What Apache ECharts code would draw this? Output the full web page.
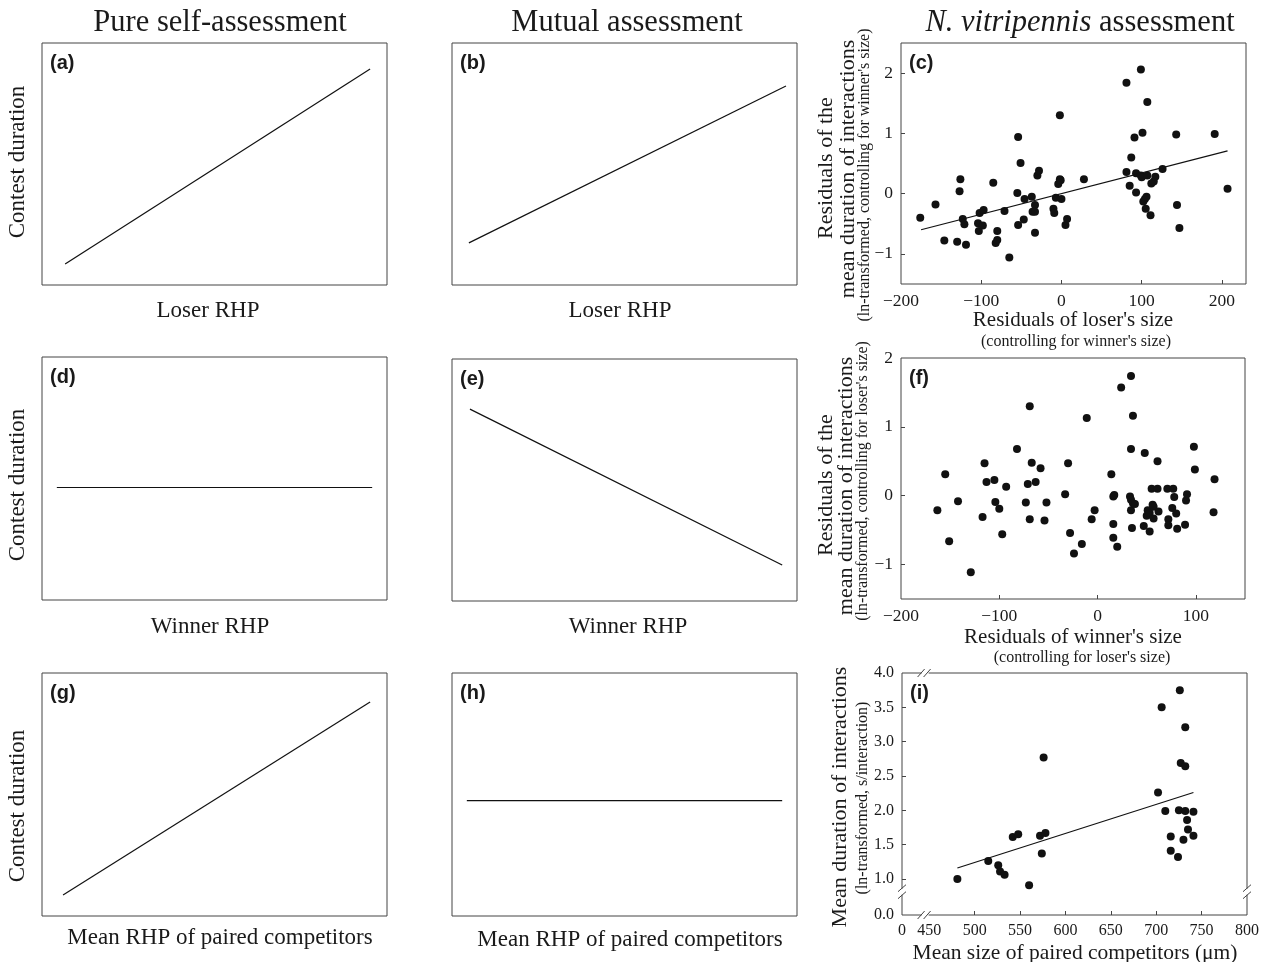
<!DOCTYPE html>
<html>
<head>
<meta charset="utf-8">
<script src="https://cdn.jsdelivr.net/npm/echarts@6.0.0/dist/echarts.min.js"></script>
<style>
html, body { margin: 0; padding: 0; background: #fff; }
#main { width: 1269px; height: 962px; }
</style>
</head>
<body>
<div id="main"></div>
<script>
var myChart = echarts.init(document.getElementById('main'));

// predicted relationships (normalised RHP on x, contest duration on y)
var selfLoserX = [0.067, 0.951], selfLoserY = [0.087, 0.893];         // (a)
var mutualLoserX = [0.049, 0.968], mutualLoserY = [0.174, 0.822];     // (b)
var selfWinnerX = [0.043, 0.957], selfWinnerY = [0.463, 0.463];       // (d)
var mutualWinnerX = [0.052, 0.957], mutualWinnerY = [0.793, 0.149];   // (e)
var selfMeanX = [0.061, 0.951], selfMeanY = [0.086, 0.881];           // (g)
var mutualMeanX = [0.043, 0.957], mutualMeanY = [0.475, 0.475];       // (h)

// (c) residuals of loser's size vs residual duration
var loserResid = [-176, -157, -146, -130, -127, -126, -123, -121, -119, -104, -103, -102, -98, -97,
  -85, -82, -80, -80, -71, -65, -55, -54, -54, -51, -47, -46, -37, -36, -33, -33, -33, -30, -28,
  -10, -9, -7, -4, -2, -1, -2, 0, 5, 7, 28, 81, 81, 85, 87, 91, 93, 93, 99, 99, 100, 101, 102,
  104, 105, 106, 107, 107, 111, 112, 115, 117, 126, 143, 144, 147, 191, 207];
var loserDur = [-0.40, -0.18, -0.78, -0.80, 0.04, 0.24, -0.42, -0.51, -0.85, -0.49, -0.62, -0.32, -0.53, -0.27,
  0.18, -0.82, -0.62, -0.77, -0.29, -1.06, 0.01, 0.94, -0.52, 0.51, -0.43, -0.09, -0.05, -0.30, -0.19, -0.30, -0.65, 0.30, 0.38,
  -0.25, -0.32, -0.07, 0.16, 0.24, 0.22, 1.30, -0.09, -0.52, -0.42, 0.24, 0.36, 1.84, 0.13, 0.60, 0.93, 0.34, 0.02, 2.06, 0.30, 0.27, 1.01, -0.13,
  -0.09, -0.25, -0.05, 1.52, 0.30, -0.36, 0.17, 0.20, 0.28, 0.41, 0.98, -0.19, -0.57, 0.99, 0.08];
var loserFitX = [-175, 207], loserFitY = [-0.60, 0.71];

// (f) residuals of winner's size vs residual duration
var winnerResid = [-163, -155, -151, -142, -129, -117, -115, -113, -105, -104, -100, -97, -93, -82, -73, -71,
  -69, -69, -67, -63, -58, -54, -52, -33, -30, -28, -24, -16, -11, -6, -3, 14, 16, 17, 16, 16, 20, 24,
  33, 34, 34, 34, 34, 36, 36, 38, 35, 48, 47, 50, 51, 53, 53, 55, 56, 57, 57, 61, 61, 62, 71, 72, 72,
  77, 76, 78, 80, 81, 89, 90, 91, 98, 99, 118, 119];
var winnerDur = [-0.21, 0.31, -0.66, -0.08, -1.11, -0.31, 0.47, 0.20, 0.23, -0.09, -0.19, -0.56, 0.13, 0.68, -0.10, 0.17,
  -0.34, 1.30, 0.48, 0.20, 0.40, -0.36, -0.10, 0.02, 0.47, -0.54, -0.84, -0.70, 1.13, -0.34, -0.21, 0.31, -0.01, 0.01, -0.41, -0.61, -0.74, 1.57,
  -0.01, 1.74, 0.68, -0.21, -0.06, 1.16, -0.11, -0.12, -0.47, 0.62, -0.44, -0.29, -0.21, -0.25, -0.52, 0.10, -0.13, -0.16, -0.33, 0.10, 0.50, -0.23, 0.10, -0.34, -0.43,
  0.10, -0.18, -0.02, -0.26, -0.48, -0.42, -0.07, 0.02, 0.71, 0.38, -0.24, 0.24];

// (i) mean size of paired competitors (um) vs mean duration (ln s/interaction)
var pairSize = [481, 515, 526, 528, 533, 542, 548, 560, 572, 574, 578, 576,
  702, 706, 710, 716, 716, 724, 725, 726, 727, 730, 732, 732, 732, 734, 735, 741, 741];
var pairDur = [1.00, 1.26, 1.20, 1.11, 1.06, 1.61, 1.65, 0.91, 1.63, 1.37, 1.67, 2.77,
  2.26, 3.50, 1.99, 1.62, 1.41, 1.32, 2.00, 3.75, 2.69, 1.57, 2.64, 3.21, 1.99, 1.86, 1.72, 1.98, 1.63];
var pairFitX = [481, 741], pairFitY = [1.16, 2.26];

// tick labels
var cTicksX = [-200, -100, 0, 100, 200], cTicksY = [-1, 0, 1, 2];
var fTicksX = [-200, -100, 0, 100], fTicksY = [-1, 0, 1, 2];
var iTicksX = [420, 450, 500, 550, 600, 650, 700, 750, 800];
var iTicksY = [0.475, 1.0, 1.5, 2.0, 2.5, 3.0, 3.5, 4.0];

function zip(xs, ys) { return xs.map(function (x, k) { return [x, ys[k]]; }); }
function num(v) { return v < 0 ? '\u2212' + (-v) : String(v); }

var SERIF = 'Liberation Serif';
var INK = '#1a1a1a';
var FRAME = '#444';

var boxes = [
  [42, 43, 345, 242], [452, 43, 345, 242], [901, 43, 345, 241],
  [42, 357, 345, 243], [452, 359, 345, 242], [901, 358, 344, 241],
  [42, 673, 345, 243], [452, 673, 345, 243], [902, 673, 345, 242]
];
var grids = boxes.map(function (b) {
  return { left: b[0], top: b[1], width: b[2], height: b[3], show: true,
    borderColor: FRAME, borderWidth: 1, backgroundColor: 'transparent' };
});

function hidden(i) { return { type: 'value', gridIndex: i, min: 0, max: 1, show: false }; }
function shown(i, min, max, labels, ticks, fmt, size) {
  return {
    type: 'value', gridIndex: i, min: min, max: max,
    axisLine: { show: false, onZero: false },
    splitLine: { show: false },
    axisTick: { show: true, inside: true, length: 4, customValues: ticks, lineStyle: { color: FRAME } },
    axisLabel: { customValues: labels, formatter: fmt, fontFamily: SERIF, fontSize: size, color: INK, margin: 8 }
  };
}

var xAxes = [hidden(0), hidden(1),
  shown(2, -200, 230, cTicksX, [-100, 0, 100, 200], num, 17.5),
  hidden(3), hidden(4),
  shown(5, -200, 150, fTicksX, [-100, 0, 100], num, 17.5),
  hidden(6), hidden(7),
  shown(8, 420, 800, iTicksX, [500, 550, 600, 650, 700, 750], function (v) { return v === 420 ? '0' : String(v); }, 16)];
var yAxes = [hidden(0), hidden(1),
  shown(2, -1.5, 2.5, cTicksY, [-1, 0, 1, 2], num, 17.5),
  hidden(3), hidden(4),
  shown(5, -1.5, 2, fTicksY, [-1, 0, 1], num, 17.5),
  hidden(6), hidden(7),
  shown(8, 0.475, 4.0, iTicksY, [1.0, 1.5, 2.0, 2.5, 3.0, 3.5], function (v) { return v < 0.9 ? '0.0' : v.toFixed(1); }, 16)];

function model(i, xs, ys) {
  return { type: 'line', xAxisIndex: i, yAxisIndex: i, data: zip(xs, ys), symbol: 'none',
    lineStyle: { color: '#111', width: 1.2 }, silent: true };
}
function dots(i, xs, ys) {
  return { type: 'scatter', xAxisIndex: i, yAxisIndex: i, data: zip(xs, ys), symbol: 'circle',
    symbolSize: 8, itemStyle: { color: '#111', opacity: 1 }, silent: true };
}

function txt(id, x, y, s, size, opt) {
  opt = opt || {};
  return {
    type: 'text', id: id, x: x, y: y, rotation: opt.rot || 0, silent: true,
    style: { text: s, fill: INK, font: (opt.weight || '') + ' ' + size + 'px "' + (opt.family || SERIF) + '"',
      textAlign: opt.align || 'center', textVerticalAlign: 'middle', rich: opt.rich }
  };
}
var UP = Math.PI / 2;
var letters = ['(a)', '(b)', '(c)', '(d)', '(e)', '(f)', '(g)', '(h)', '(i)'];

var graphics = [
  txt('t1', 220, 23, 'Pure self-assessment', 30.5),
  txt('t2', 627, 23, 'Mutual assessment', 30.5),
  txt('t3', 1080, 23, '{it|N. vitripennis}{n| assessment}', 30.5, {
    rich: { it: { fontStyle: 'italic', fontSize: 30.5, fontFamily: SERIF, fill: INK },
            n: { fontSize: 30.5, fontFamily: SERIF, fill: INK } } }),
  txt('xa', 208, 311, 'Loser RHP', 23),
  txt('xb', 620, 311, 'Loser RHP', 23),
  txt('xd', 210, 627, 'Winner RHP', 23),
  txt('xe', 628, 627, 'Winner RHP', 23),
  txt('xg', 220, 938, 'Mean RHP of paired competitors', 23),
  txt('xh', 630, 940, 'Mean RHP of paired competitors', 23),
  txt('ya', 18, 162, 'Contest duration', 23, { rot: UP }),
  txt('yd', 18, 485, 'Contest duration', 23, { rot: UP }),
  txt('yg', 18, 806, 'Contest duration', 23, { rot: UP }),
  txt('yc1', 826, 168, 'Residuals of the', 22, { rot: UP }),
  txt('yc2', 848, 169, 'mean duration of interactions', 22, { rot: UP }),
  txt('yc3', 865, 175, '(ln-transformed, controlling for winner\'s size)', 16, { rot: UP }),
  txt('yf1', 826, 485, 'Residuals of the', 22, { rot: UP }),
  txt('yf2', 846, 486, 'mean duration of interactions', 22, { rot: UP }),
  txt('yf3', 863, 481, '(ln-transformed, controlling for loser\'s size)', 16, { rot: UP }),
  txt('yi1', 840, 797, 'Mean duration of interactions', 22, { rot: UP }),
  txt('yi2', 863, 798, '(ln-transformed, s/interaction)', 16, { rot: UP }),
  txt('xc1', 1073, 320, 'Residuals of loser\'s size', 21),
  txt('xc2', 1076, 342, '(controlling for winner\'s size)', 16),
  txt('xf1', 1073, 637, 'Residuals of winner\'s size', 21),
  txt('xf2', 1082, 658, '(controlling for loser\'s size)', 16),
  txt('xi1', 1075, 953, 'Mean size of paired competitors (\u03bcm)', 21.5)
];
letters.forEach(function (l, k) {
  graphics.push(txt('L' + k, boxes[k][0] + 8, boxes[k][1] + 20, l, 20,
    { align: 'left', weight: 'bold', family: 'Liberation Sans' }));
});

var option = {
  animation: false,
  backgroundColor: '#fff',
  grid: grids,
  xAxis: xAxes,
  yAxis: yAxes,
  series: [
    model(0, selfLoserX, selfLoserY),
    model(1, mutualLoserX, mutualLoserY),
    dots(2, loserResid, loserDur),
    model(2, loserFitX, loserFitY),
    model(3, selfWinnerX, selfWinnerY),
    model(4, mutualWinnerX, mutualWinnerY),
    dots(5, winnerResid, winnerDur),
    model(6, selfMeanX, selfMeanY),
    model(7, mutualMeanX, mutualMeanY),
    dots(8, pairSize, pairDur),
    model(8, pairFitX, pairFitY)
  ],
  graphic: { elements: graphics }
};
myChart.setOption(option);

// axis break marks on panel (i)
function breakMark(id, p, horizontal) {
  var cx = p[0], cy = p[1];
  var ls = { stroke: FRAME, lineWidth: 1 };
  if (horizontal) {
    return [
      { type: 'rect', id: id + 'r', silent: true, shape: { x: cx - 4, y: cy - 2, width: 7, height: 4 }, style: { fill: '#fff' } },
      { type: 'line', id: id + 'a', silent: true, shape: { x1: cx - 8, y1: cy + 4, x2: cx - 1, y2: cy - 4 }, style: ls },
      { type: 'line', id: id + 'b', silent: true, shape: { x1: cx - 2, y1: cy + 4, x2: cx + 5, y2: cy - 4 }, style: ls }
    ];
  }
  return [
    { type: 'rect', id: id + 'r', silent: true, shape: { x: cx - 2, y: cy - 4, width: 4, height: 6 }, style: { fill: '#fff' } },
    { type: 'line', id: id + 'a', silent: true, shape: { x1: cx - 4, y1: cy - 1, x2: cx + 4, y2: cy - 8 }, style: ls },
    { type: 'line', id: id + 'b', silent: true, shape: { x1: cx - 4, y1: cy + 6, x2: cx + 4, y2: cy - 1 }, style: ls }
  ];
}
var px = function (v) { return myChart.convertToPixel({ gridIndex: 8 }, v); };
var marks = [].concat(
  breakMark('bb', px([446, 0.475]), true),
  breakMark('bt', px([446, 4.0]), true),
  breakMark('bl', px([420, 0.80]), false),
  breakMark('br', px([800, 0.80]), false)
);
myChart.setOption({ graphic: { elements: marks } });
</script>
</body>
</html>
